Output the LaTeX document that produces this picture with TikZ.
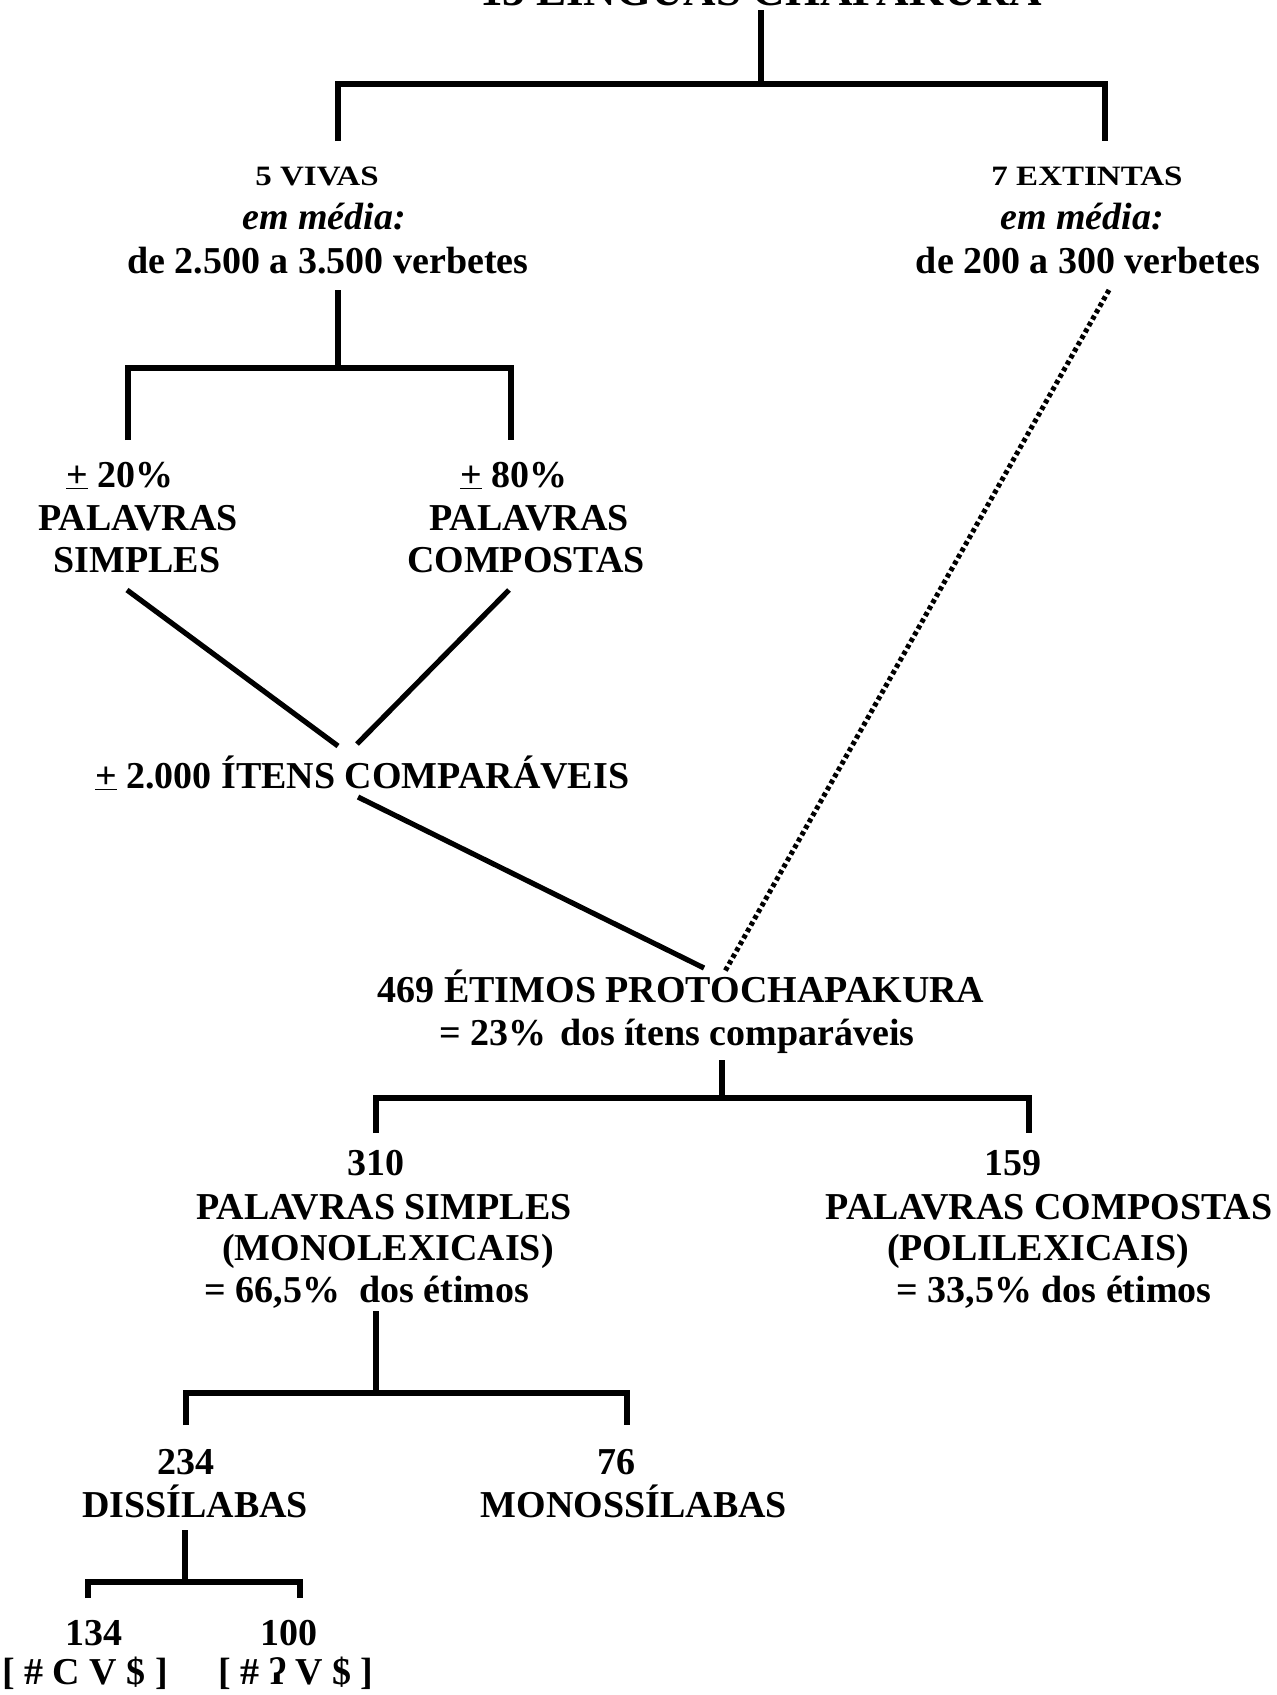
\documentclass[tikz,border=0pt]{standalone}
\usepackage{fontspec}
\usepackage{graphicx}
\setmainfont{Liberation Serif}
\newcommand{\sqz}[1]{\scalebox{1}[0.85]{#1}}
\begin{document}
\begin{tikzpicture}[x=1pt,y=-1pt,
  txt/.style={font=\fontsize{38}{43}\selectfont\bfseries, inner sep=0pt, anchor=base},
  itx/.style={font=\fontsize{38}{43}\selectfont\bfseries\itshape, inner sep=0pt, anchor=base},
  sq/.style={font=\fontsize{33}{38}\selectfont\bfseries, inner sep=0pt, anchor=base},
  big/.style={font=\fontsize{45}{50}\selectfont\bfseries, inner sep=0pt, anchor=base},
  link/.style={line width=5.2pt, line join=miter},
  dots/.style={line width=5pt, dash pattern=on 4.2pt off 3.2pt}]
\useasboundingbox (0,0) rectangle (1277,1695);
\clip (0,0) rectangle (1277,1695);
\fill[white] (0,0) rectangle (1277,1695);

% texts
\node[big] (top) at (761,5) {13 LÍNGUAS CHAPAKURA};
\node[sq] (vivas) at (317,185) {\sqz{5 VIVAS}};
\node[itx] (vmedia) at (324,229) {em média:};
\node[txt] (vverb) at (328,273) {de 2.500 a 3.500 verbetes};
\node[sq] (ext) at (1087,185) {\sqz{7 EXTINTAS}};
\node[itx] (emedia) at (1082,229) {em média:};
\node[txt] (everb) at (1088,273) {de 200 a 300 verbetes};

\node[txt, anchor=base west] (s20) at (66,487) {\underline{+} 20\%};
\node[txt] (spal) at (138,530) {PALAVRAS};
\node[txt] (ssim) at (137,572) {SIMPLES};
\node[txt, anchor=base west] (s80) at (460,487) {\underline{+} 80\%};
\node[txt] (cpal) at (529,530) {PALAVRAS};
\node[txt] (ccomp) at (526,572) {COMPOSTAS};

\node[txt, anchor=base west] (itens) at (95,788) {\underline{+} 2.000 ÍTENS COMPARÁVEIS};

\node[txt] (etimos) at (681,1002) {469 ÉTIMOS PROTOCHAPAKURA};
\node[txt] (pct) at (677,1045) {= 23\%\hspace{4pt} dos ítens comparáveis};

\node[txt] (n310) at (376,1175) {310};
\node[txt] (ps) at (384,1219) {PALAVRAS SIMPLES};
\node[txt] (mono) at (388,1260) {(MONOLEXICAIS)};
\node[txt] (p66) at (367,1302) {= 66,5\%\ \ dos étimos};
\node[txt] (n159) at (1013,1175) {159};
\node[txt] (pc) at (1049,1219) {PALAVRAS COMPOSTAS};
\node[txt] (poli) at (1038,1260) {(POLILEXICAIS)};
\node[txt] (p33) at (1054,1302) {= 33,5\% dos étimos};

\node[txt] (n234) at (186,1474) {234};
\node[txt] (diss) at (195,1517) {DISSÍLABAS};
\node[txt] (n76) at (616,1474) {76};
\node[txt] (monos) at (634,1517) {MONOSSÍLABAS};

\node[txt] (n134) at (94,1645) {134};
\node[txt] (n100) at (289,1645) {100};
\node[txt] (cv) at (85,1684) {[ \# C V \$ ]};
\node[txt] (gv) at (296,1684) {[ \# ʔ V \$ ]};

% coordinates
\coordinate (t0) at (761,10);   \coordinate (t1) at (761,84);
\coordinate (tl0) at (338,84);  \coordinate (tl1) at (338,141);
\coordinate (tr0) at (1105,84); \coordinate (tr1) at (1105,141);
\coordinate (v0) at (338,290);  \coordinate (v1) at (338,368);
\coordinate (vl0) at (128,368); \coordinate (vl1) at (128,440);
\coordinate (vr0) at (511,368); \coordinate (vr1) at (511,440);
\coordinate (ds0) at (127,590); \coordinate (ds1) at (338,746);
\coordinate (dc0) at (509,590); \coordinate (dc1) at (357,744);
\coordinate (i0) at (358,797);  \coordinate (i1) at (704,968);
\coordinate (x0) at (1109,290); \coordinate (x1) at (724,973);
\coordinate (e0) at (722,1060); \coordinate (e1) at (722,1098);
\coordinate (el0) at (376,1098); \coordinate (el1) at (376,1133);
\coordinate (er0) at (1029,1098); \coordinate (er1) at (1029,1133);
\coordinate (s0) at (376,1311); \coordinate (s1) at (376,1393);
\coordinate (sl0) at (186,1393); \coordinate (sl1) at (186,1425);
\coordinate (sr0) at (627,1393); \coordinate (sr1) at (627,1425);
\coordinate (d0) at (185,1530); \coordinate (d1) at (185,1582);
\coordinate (dl0) at (88,1582); \coordinate (dl1) at (88,1598);
\coordinate (dr0) at (300,1582); \coordinate (dr1) at (300,1598);

% connectors
\draw[link] (t0) -- (t1);
\draw[link] (tl1) -- (tl0) -- (tr0) -- (tr1);
\draw[link] (v0) -- (v1);
\draw[link] (vl1) -- (vl0) -- (vr0) -- (vr1);
\draw[link] (ds0) -- (ds1);
\draw[link] (dc0) -- (dc1);
\draw[link] (i0) -- (i1);
\draw[dots] (x0) -- (x1);
\draw[link] (e0) -- (e1);
\draw[link] (el1) -- (el0) -- (er0) -- (er1);
\draw[link] (s0) -- (s1);
\draw[link] (sl1) -- (sl0) -- (sr0) -- (sr1);
\draw[link] (d0) -- (d1);
\draw[link] (dl1) -- (dl0) -- (dr0) -- (dr1);
\end{tikzpicture}
\end{document}
